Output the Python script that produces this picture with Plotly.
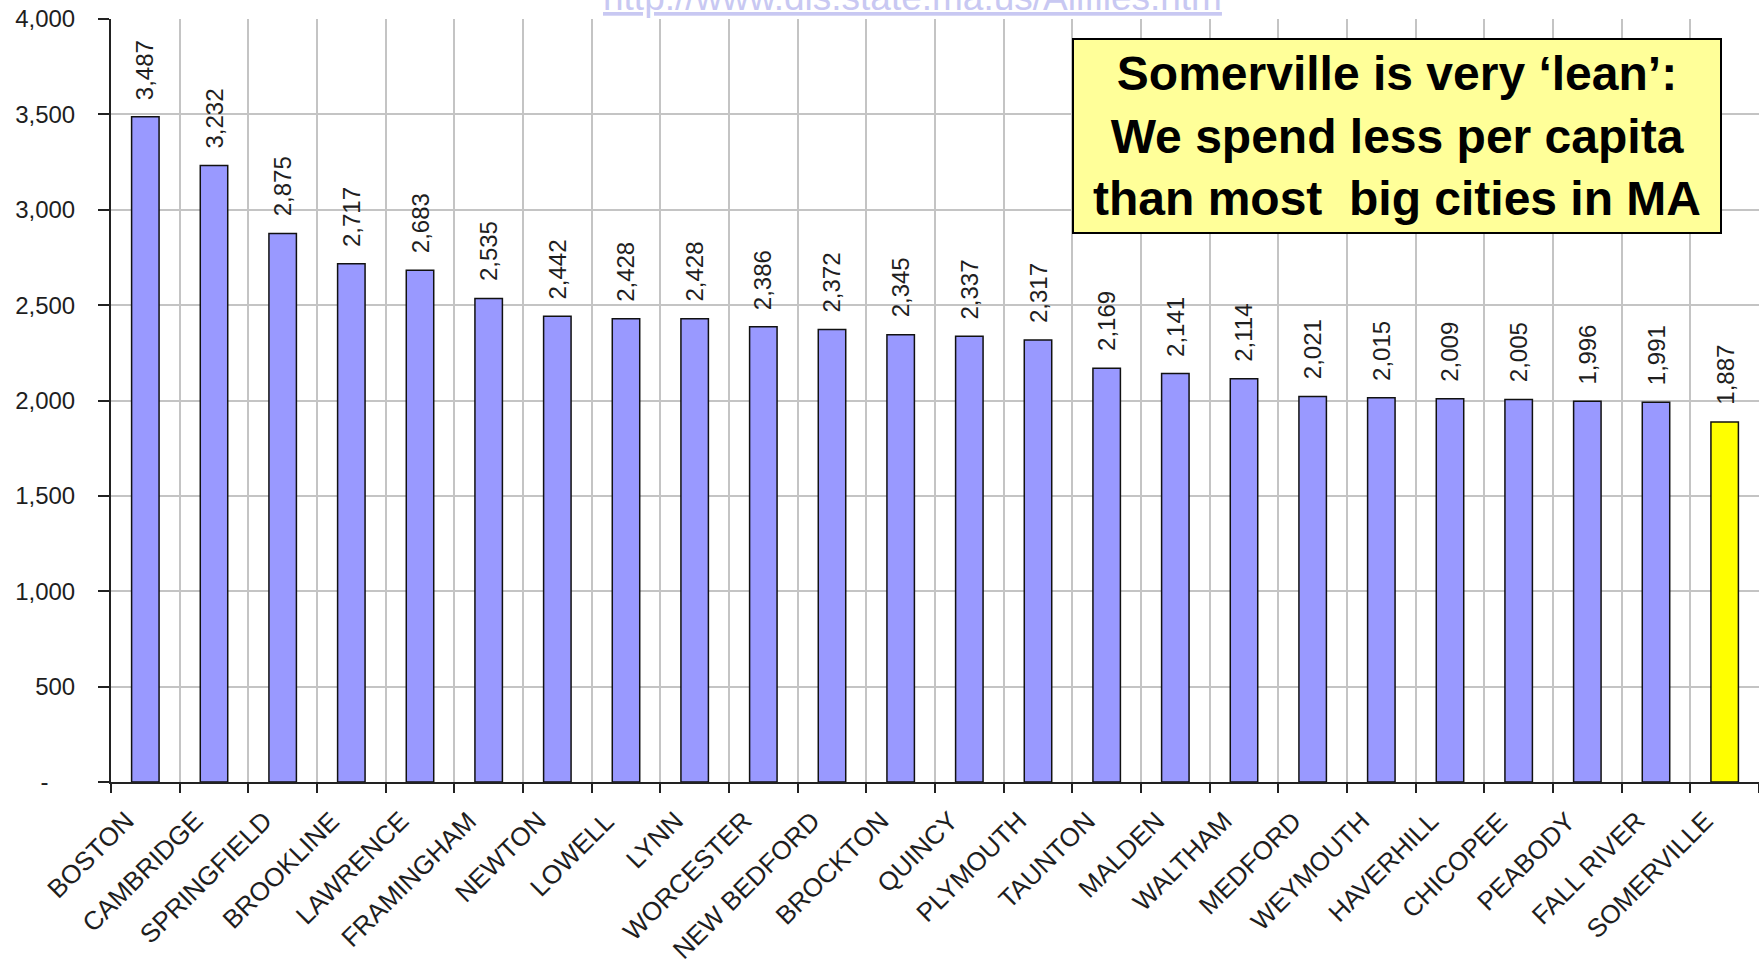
import plotly.graph_objects as go

cities = ["BOSTON", "CAMBRIDGE", "SPRINGFIELD", "BROOKLINE", "LAWRENCE", "FRAMINGHAM",
          "NEWTON", "LOWELL", "LYNN", "WORCESTER", "NEW BEDFORD", "BROCKTON", "QUINCY",
          "PLYMOUTH", "TAUNTON", "MALDEN", "WALTHAM", "MEDFORD", "WEYMOUTH", "HAVERHILL",
          "CHICOPEE", "PEABODY", "FALL RIVER", "SOMERVILLE"]
spending = [3487, 3232, 2875, 2717, 2683, 2535, 2442, 2428, 2428, 2386, 2372, 2345, 2337,
            2317, 2169, 2141, 2114, 2021, 2015, 2009, 2005, 1996, 1991, 1887]
highlight_city = "SOMERVILLE"

y_tickvals = [0, 500, 1000, 1500, 2000, 2500, 3000, 3500, 4000]
y_ticktext = ["-\u00a0\u00a0\u00a0\u00a0", "500", "1,000", "1,500", "2,000", "2,500",
              "3,000", "3,500", "4,000"]

callout_lines = ["Somerville is very \u2018lean\u2019:",
                 "We spend less per capita",
                 "than most \u00a0big cities in MA"]
source_url = "http://www.dls.state.ma.us/Allfiles.htm"

BAR = "#9999FF"
HILITE = "#FFFF00"
GRID = "#c4c4c4"
AX = "#222222"
TXT = "#1e1e1e"
FONT = "Arial, Liberation Sans, sans-serif"

colors = [HILITE if c == highlight_city else BAR for c in cities]

fig = go.Figure()
fig.add_trace(go.Bar(
    x=cities, y=spending,
    marker=dict(color=colors, line=dict(color="#111111", width=1.5)),
    width=0.4,
    hoverinfo="x+y",
))

# value labels above bars
for c, v in zip(cities, spending):
    fig.add_annotation(
        x=c, y=v, xref="x", yref="y",
        text=f"{v:,}", textangle=-90, showarrow=False,
        xanchor="center", yanchor="bottom", yshift=15,
        font=dict(family=FONT, size=24, color=TXT),
    )

# category labels (slanted)
for c in cities:
    fig.add_annotation(
        x=c, y=0, xref="x", yref="y",
        text=c, textangle=-45, showarrow=False,
        xanchor="right", yanchor="top", xshift=-3, yshift=-21,
        font=dict(family=FONT, size=26, color=TXT),
    )

fig.add_annotation(
    x=0.7805, y=0.8467, xref="paper", yref="paper",
    text="<br>".join(callout_lines), showarrow=False,
    xanchor="center", yanchor="middle", align="center",
    width=644, height=190,
    bgcolor="#FFFF99", bordercolor="#000000", borderwidth=2, borderpad=1,
    font=dict(family=FONT, size=48, color="#000000", weight="bold"),
)

fig.add_annotation(
    x=0.4866, y=1, xref="paper", yref="paper",
    text=f'<span style="text-decoration:underline">{source_url}</span>',
    showarrow=False, xanchor="center", yanchor="bottom", yshift=-1,
    font=dict(family=FONT, size=37, color="#c8c8f2"),
)

fig.update_layout(
    width=1759, height=966,
    margin=dict(l=111, r=0, t=19, b=184, autoexpand=False),
    paper_bgcolor="white", plot_bgcolor="white",
    showlegend=False, bargap=0.6,
    font=dict(family=FONT, color=TXT),
)
fig.update_xaxes(
    type="category", tickson="boundaries", automargin=False,
    range=[-0.5, len(cities) - 0.5],
    showticklabels=False,
    showgrid=True, gridcolor=GRID, gridwidth=2,
    showline=True, linecolor=AX, linewidth=2,
    ticks="outside", ticklen=9, tickwidth=2, tickcolor=AX,
)
fig.update_yaxes(
    range=[0, 4000], tickvals=y_tickvals, ticktext=y_ticktext, automargin=False,
    ticklabeloverflow="allow",
    showgrid=True, gridcolor=GRID, gridwidth=2, zeroline=False,
    showline=True, linecolor=AX, linewidth=2,
    ticks="outside", ticklen=11, tickwidth=2, tickcolor=AX,
    ticklabelstandoff=18,
    tickfont=dict(family=FONT, size=24, color=TXT),
)

fig.write_html(
    "out.html",
    config={"displayModeBar": False},
    post_script="document.body.style.margin='0';document.body.style.overflow='hidden';",
)
